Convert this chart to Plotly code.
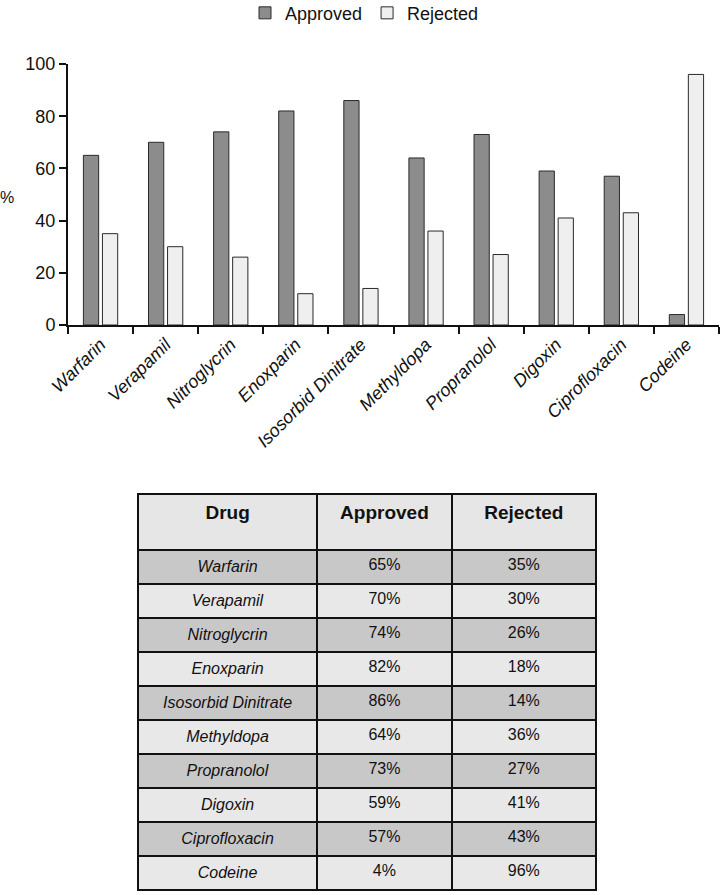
import plotly.graph_objects as go

drugs = ["Warfarin", "Verapamil", "Nitroglycrin", "Enoxparin", "Isosorbid Dinitrate",
         "Methyldopa", "Propranolol", "Digoxin", "Ciprofloxacin", "Codeine"]
approved = [65, 70, 74, 82, 86, 64, 73, 59, 57, 4]
rejected = [35, 30, 26, 12, 14, 36, 27, 41, 43, 96]
table_approved = ["65%", "70%", "74%", "82%", "86%", "64%", "73%", "59%", "57%", "4%"]
table_rejected = ["35%", "30%", "26%", "18%", "14%", "36%", "27%", "41%", "43%", "96%"]
y_ticks = [0, 20, 40, 60, 80, 100]

W, H = 721, 895
sans = "Liberation Sans, Arial, sans-serif"

fig = go.Figure()
fig.add_trace(go.Bar(x=drugs, y=approved, name="Approved",
                     marker=dict(color="#8c8c8c", line=dict(color="#2a2a2a", width=1))))
fig.add_trace(go.Bar(x=drugs, y=rejected, name="Rejected",
                     marker=dict(color="#efefef", line=dict(color="#2a2a2a", width=1))))

dark = "#c8c8c8"
light = "#e8e8e8"
row_fill = [dark if i % 2 == 0 else light for i in range(len(drugs))]

fig.add_trace(go.Table(
    domain=dict(x=[138 / W, 597 / W], y=[0, (H - 494) / H]),
    columnwidth=[180, 135, 145],
    header=dict(values=["<b>Drug</b>", "<b>Approved</b>", "<b>Rejected</b>"],
                height=56, align="center",
                fill_color="#e6e6e6",
                line=dict(color="#111111", width=2),
                font=dict(family=sans, size=19, color="#111111")),
    cells=dict(values=[["<i>" + d + "</i>" for d in drugs], table_approved, table_rejected],
               height=34, align="center",
               fill_color=[row_fill, row_fill, row_fill],
               line=dict(color="#111111", width=2),
               font=dict(family=sans, size=16, color="#111111")),
))

fig.update_layout(
    width=W, height=H,
    margin=dict(l=0, r=0, t=0, b=0, autoexpand=False),
    paper_bgcolor="white", plot_bgcolor="white",
    barmode="group", bargap=0.415, bargroupgap=0.2,
    showlegend=True,
    legend=dict(orientation="h", x=0.5 + 4 / W, xanchor="center", y=1.006, yanchor="top",
                font=dict(family=sans, size=18, color="#111111"),
                itemwidth=30, bgcolor="rgba(0,0,0,0)"),
    xaxis=dict(domain=[68 / W, 719 / W], anchor="y", automargin=False,
               showline=True, linecolor="#111111", linewidth=2,
               ticks="outside", tickson="boundaries", ticklen=7, tickwidth=2, tickcolor="#111111",
               tickangle=-45,
               tickfont=dict(family=sans, size=18, color="#111111", style="italic"),
               showgrid=False, zeroline=False),
    yaxis=dict(domain=[(H - 325) / H, (H - 64) / H], range=[0, 100], automargin=False,
               tickvals=y_ticks, showline=True, linecolor="#111111", linewidth=2,
               ticks="outside", ticklen=7, tickwidth=2, tickcolor="#111111",
               tickfont=dict(family=sans, size=18, color="#111111"),
               showgrid=False, zeroline=False),
    annotations=[dict(text="%", x=7 / W, y=(H - 197) / H, xref="paper", yref="paper",
                      showarrow=False, xanchor="center", yanchor="middle",
                      font=dict(family=sans, size=16, color="#111111"))],
)

fig.write_html("out.html", config={"displayModeBar": False},
               post_script="document.body.style.margin='0';document.body.style.overflow='hidden';")
